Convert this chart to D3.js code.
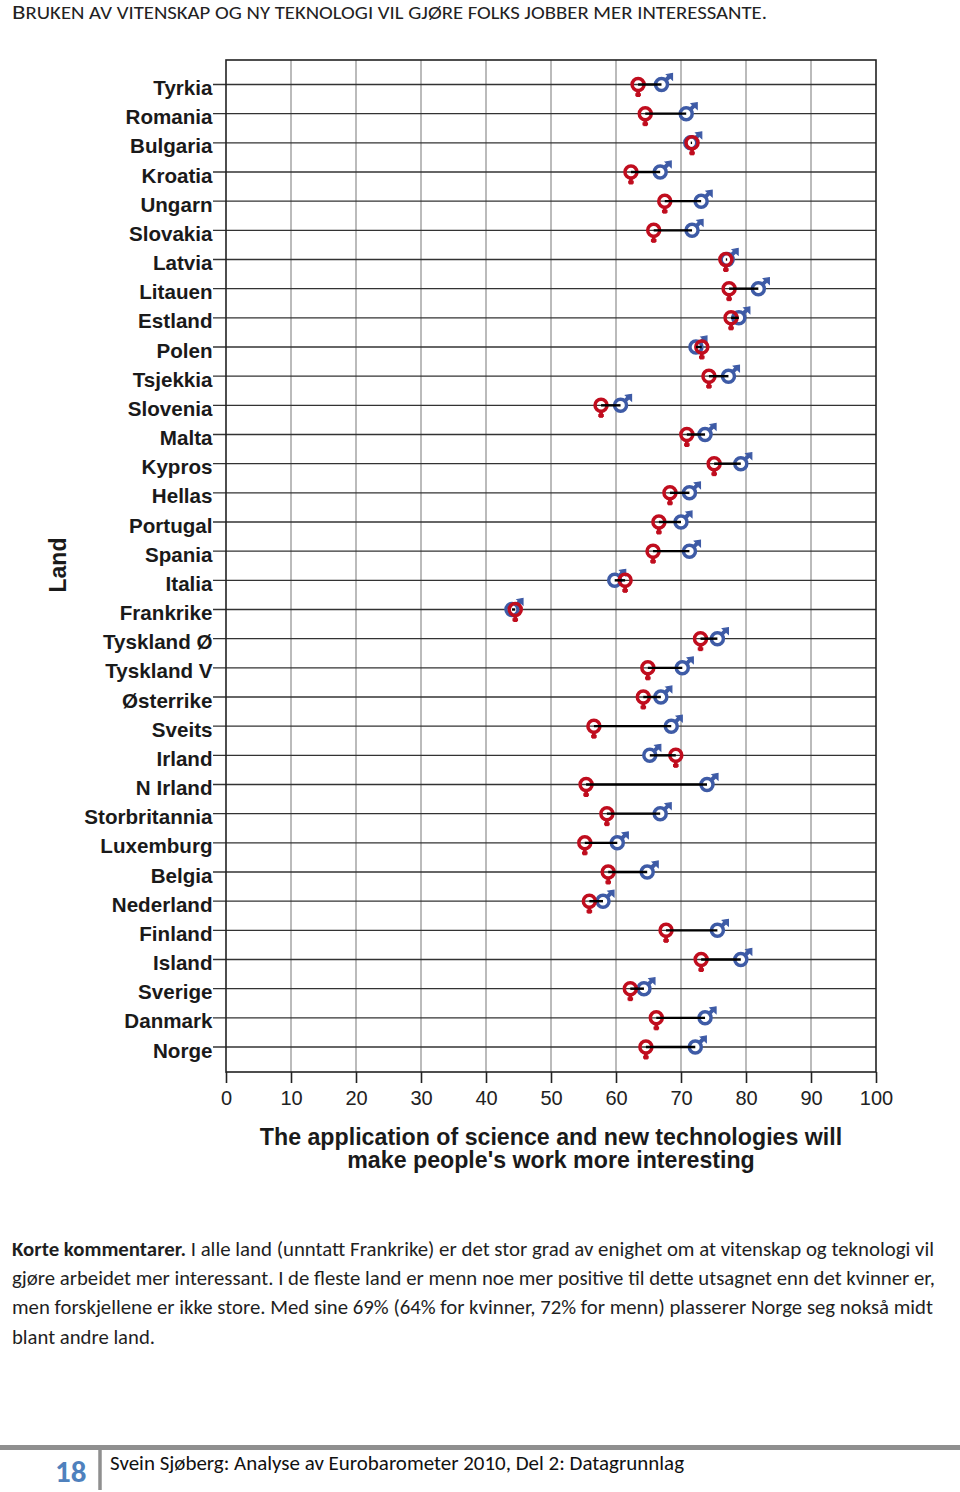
<!DOCTYPE html>
<html><head><meta charset="utf-8">
<script src="https://cdn.jsdelivr.net/npm/d3@7/dist/d3.min.js"></script>
<style>html,body{margin:0;padding:0;background:#fff}svg{display:block}</style>
</head><body><svg id="c" width="960" height="1492"></svg>
<script>
const countries=["Tyrkia","Romania","Bulgaria","Kroatia","Ungarn","Slovakia","Latvia","Litauen","Estland","Polen","Tsjekkia","Slovenia","Malta","Kypros","Hellas","Portugal","Spania","Italia","Frankrike","Tyskland Ø","Tyskland V","Østerrike","Sveits","Irland","N Irland","Storbritannia","Luxemburg","Belgia","Nederland","Finland","Island","Sverige","Danmark","Norge"];
const women=[63.4,64.5,71.7,62.3,67.5,65.8,76.9,77.4,77.7,73.2,74.3,57.7,70.9,75.1,68.3,66.6,65.7,61.4,44.5,73,64.9,64.2,56.6,69.2,55.4,58.6,55.2,58.8,55.9,67.7,73.1,62.2,66.2,64.6];
const men=[67,70.8,71.5,66.8,73.1,71.7,77.1,81.9,78.9,72.3,77.3,60.7,73.7,79.2,71.3,70,71.3,59.8,44,75.6,70.2,66.9,68.5,65.2,74,66.8,60.2,64.8,58,75.6,79.2,64.3,73.7,72.2];
const xTicks=d3.range(0,101,10);
const bodyLines=[
 {w:922,parts:[["Korte kommentarer. ",700],["I alle land (unntatt Frankrike) er det stor grad av enighet om at vitenskap og teknologi vil",400]]},
 {w:923,parts:[["gjøre arbeidet mer interessant. I de fleste land er menn noe mer positive til dette utsagnet enn det kvinner er,",400]]},
 {w:921,parts:[["men forskjellene er ikke store. Med sine 69% (64% for kvinner, 72% for menn) plasserer Norge seg nokså midt",400]]},
 {w:143,parts:[["blant andre land.",400]]}];
const svg=d3.select("#c");
const sans="'Liberation Sans',Arial,sans-serif", cal="Carlito,Lato,sans-serif";
const x=d3.scaleLinear().domain([0,100]).range([226,876]);
const y=d3.scalePoint().domain(countries).range([84.5,1047]);
const plotTop=60,plotBot=1072;
const blue="#3e5ba6",red="#c00d1e";
// title
const tt=svg.append("text").attr("x",12).attr("y",18.5).attr("font-family",cal).attr("fill","#222").attr("textLength",755).attr("lengthAdjust","spacingAndGlyphs");
tt.append("tspan").attr("font-size",21).text("B");
tt.append("tspan").attr("font-size",17.5).text("RUKEN AV VITENSKAP OG NY TEKNOLOGI VIL GJØRE FOLKS JOBBER MER INTERESSANTE.");
// grid
svg.append("g").selectAll("line").data(xTicks.slice(1,-1)).join("line").attr("x1",d=>x(d)).attr("x2",d=>x(d)).attr("y1",plotTop).attr("y2",plotBot).attr("stroke","#aaa").attr("stroke-width",1.6);
svg.append("g").selectAll("line").data(countries).join("line").attr("x1",213).attr("x2",876).attr("y1",d=>y(d)).attr("y2",d=>y(d)).attr("stroke","#333").attr("stroke-width",1.3);
svg.append("rect").attr("x",226).attr("y",plotTop).attr("width",650).attr("height",plotBot-plotTop).attr("fill","none").attr("stroke","#222").attr("stroke-width",1.6);
// y labels
svg.append("g").selectAll("text").data(countries).join("text").attr("x",212.5).attr("y",d=>y(d)+10.5).attr("text-anchor","end").attr("font-family",sans).attr("font-weight",700).attr("font-size",20.6).attr("fill","#1a1a1a").text(d=>d);
// x axis
const ax=svg.append("g").attr("transform",`translate(0,${plotBot})`).call(d3.axisBottom(x).tickValues(xTicks).tickSize(11).tickSizeOuter(0).tickPadding(8));
ax.select(".domain").attr("stroke","none");
ax.selectAll("line").attr("stroke","#222").attr("stroke-width",1.6);
ax.selectAll("text").attr("font-family",sans).attr("font-size",20).attr("fill","#222");
// axis titles
svg.append("text").attr("transform","translate(66,565) rotate(-90)").attr("text-anchor","middle").attr("font-family",sans).attr("font-weight",700).attr("font-size",23).attr("fill","#1a1a1a").text("Land");
const xt=svg.append("text").attr("text-anchor","middle").attr("font-family",sans).attr("font-weight",700).attr("font-size",23.2).attr("fill","#1a1a1a");
xt.append("tspan").attr("x",551).attr("y",1145).text("The application of science and new technologies will");
xt.append("tspan").attr("x",551).attr("y",1168).text("make people's work more interesting");
// male marks
const mg=svg.append("g").selectAll("g").data(countries).join("g").attr("transform",(d,i)=>`translate(${x(men[i])},${y(d)})`);
mg.append("line").attr("x1",3).attr("y1",-3).attr("x2",8).attr("y2",-8).attr("stroke",blue).attr("stroke-width",4);
mg.append("path").attr("d","M5,-10L11,-11L11,-4.5Z").attr("fill",blue).attr("stroke",blue).attr("stroke-width",1.2);
mg.append("circle").attr("r",6).attr("fill","#fff");
// female marks
const fg=svg.append("g").selectAll("g").data(countries).join("g").attr("transform",(d,i)=>`translate(${x(women[i])},${y(d)})`);
fg.append("line").attr("y1",5).attr("y2",12.5).attr("stroke",red).attr("stroke-width",3.8);
fg.append("line").attr("x1",-2.8).attr("x2",2.8).attr("y1",10.2).attr("y2",10.2).attr("stroke",red).attr("stroke-width",3);
fg.append("circle").attr("r",6).attr("fill","#fff");
// connectors, drawn centre to centre above the ring fills
svg.append("g").selectAll("line").data(countries).join("line").attr("x1",(d,i)=>x(women[i])).attr("x2",(d,i)=>x(men[i])).attr("y1",d=>y(d)).attr("y2",d=>y(d)).attr("stroke","#000").attr("stroke-width",2.4);
// ring strokes over the connectors
mg.append("circle").attr("r",6).attr("fill","none").attr("stroke",blue).attr("stroke-width",3.5);
fg.raise();
fg.selectAll("circle").attr("fill","none").attr("stroke",red).attr("stroke-width",3.5);
// body
bodyLines.forEach((ln,i)=>{
 const t=svg.append("text").attr("x",12).attr("y",1256+i*29.2).attr("font-family",cal).attr("font-size",20).attr("fill","#1f1f1f").attr("textLength",ln.w).attr("lengthAdjust","spacingAndGlyphs");
 ln.parts.forEach(s=>t.append("tspan").attr("font-weight",s[1]).text(s[0]));
});
// footer
svg.append("line").attr("x1",0).attr("x2",960).attr("y1",1447.5).attr("y2",1447.5).attr("stroke","#8f8f8f").attr("stroke-width",5);
svg.append("line").attr("x1",100).attr("x2",100).attr("y1",1447).attr("y2",1490).attr("stroke","#8f8f8f").attr("stroke-width",3.5);
svg.append("text").attr("x",55).attr("y",1482).attr("font-family",cal).attr("font-weight",700).attr("font-size",31).attr("fill","#4f81bd").text("18");
svg.append("text").attr("x",110).attr("y",1470).attr("font-family",cal).attr("font-size",20).attr("fill","#111").attr("textLength",574).attr("lengthAdjust","spacingAndGlyphs").text("Svein Sjøberg: Analyse av Eurobarometer 2010,  Del 2: Datagrunnlag");
</script></body></html>
